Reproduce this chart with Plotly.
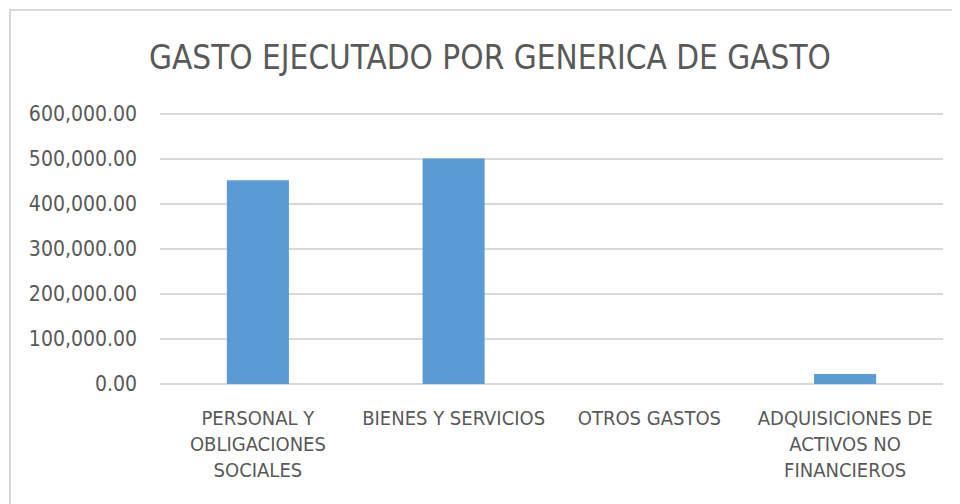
import plotly.graph_objects as go

categories = [
    "PERSONAL Y<br>OBLIGACIONES<br>SOCIALES",
    "BIENES Y SERVICIOS",
    "OTROS GASTOS",
    "ADQUISICIONES DE<br>ACTIVOS NO<br>FINANCIEROS",
]
values = [453000, 501000, 0, 22500]
y_ticks = [0, 100000, 200000, 300000, 400000, 500000, 600000]

FONT = "DejaVu Sans Condensed, Liberation Sans Narrow, sans-serif"
GRAY = "#595959"

# page body has an 8px default margin, so the figure is 952x496
W, H = 952, 496
L, R, T, B = 152, 17, 104, 120
pw, ph = W - L - R, H - T - B
ymax = 600000 * ph / (ph - 2)

fig = go.Figure(
    go.Bar(x=categories, y=values, marker=dict(color="#5b9bd5", line=dict(width=0)))
)

fig.update_layout(
    width=W,
    height=H,
    margin=dict(l=L, r=R, t=T, b=B, autoexpand=False),
    paper_bgcolor="white",
    plot_bgcolor="white",
    bargap=0.683,
    showlegend=False,
    title=dict(
        text="GASTO EJECUTADO POR GENERICA DE GASTO",
        x=482 / W,
        xanchor="center",
        y=1 - 49 / H,
        yanchor="middle",
        font=dict(family=FONT, size=33, color=GRAY),
    ),
    font=dict(family=FONT, size=20, color=GRAY),
    xaxis=dict(
        showgrid=False,
        showline=False,
        ticks="",
        automargin=False,
        ticklabelstandoff=20,
        tickfont=dict(family=FONT, size=20, color=GRAY),
    ),
    yaxis=dict(
        range=[0, ymax],
        tickvals=y_ticks,
        tickformat=",.2f",
        showgrid=True,
        gridcolor="#d9d9d9",
        gridwidth=1.5,
        zeroline=True,
        zerolinecolor="#d9d9d9",
        zerolinewidth=1.5,
        showline=False,
        ticks="",
        automargin=False,
        ticklabelstandoff=22,
        tickfont=dict(family=FONT, size=21, color=GRAY),
    ),
    shapes=[
        dict(
            type="rect",
            xref="paper",
            yref="paper",
            x0=(2 - L) / pw,
            x1=1.2,
            y0=-1,
            y1=(T + ph - 2) / ph,
            line=dict(color="#d9d9d9", width=2),
            layer="below",
        )
    ],
)

fig.write_html("out.html")
